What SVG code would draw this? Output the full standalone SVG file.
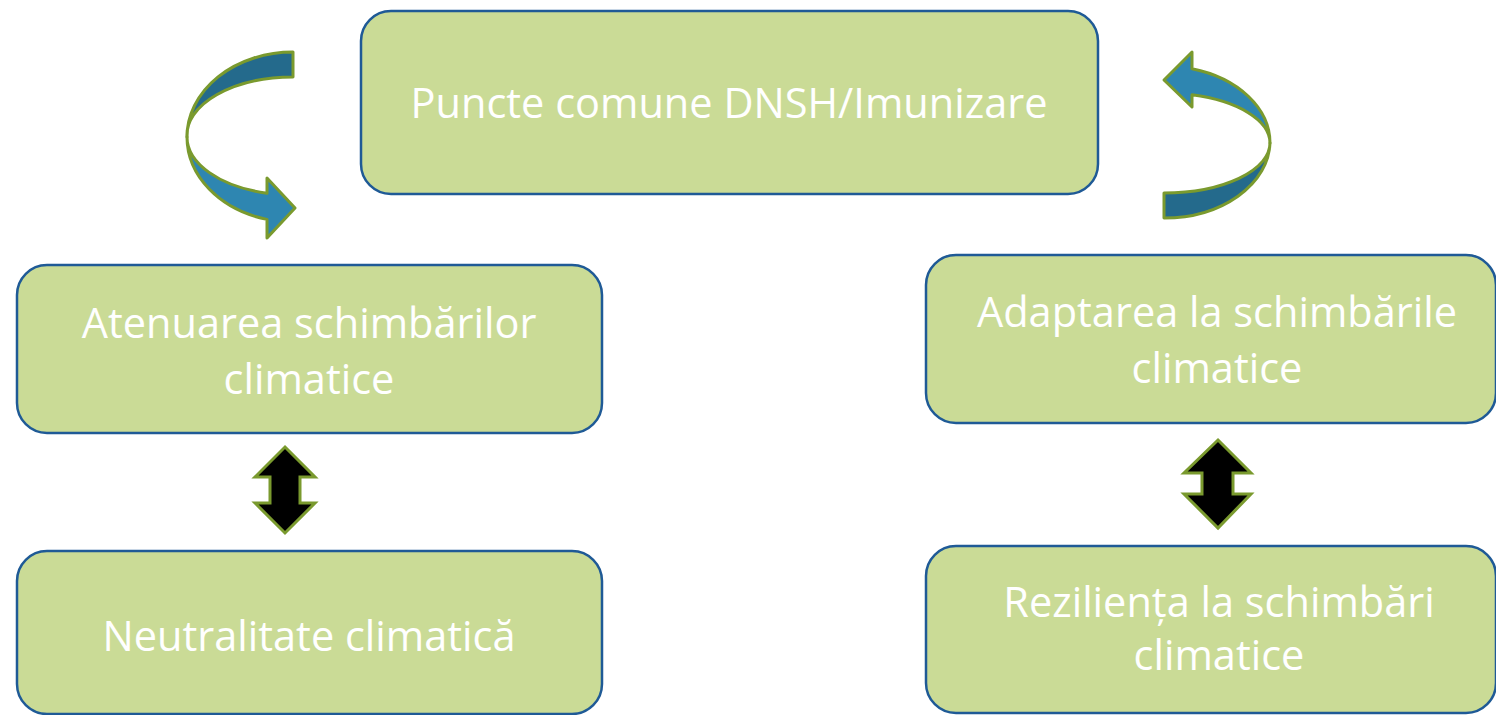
<svg xmlns="http://www.w3.org/2000/svg" width="1496" height="715" viewBox="0 0 1496 715">
<style>
.box{fill:#cadb96;stroke:#1f5a96;stroke-width:2.5}
.t{font-family:"Open Sans","Noto Sans","Liberation Sans",sans-serif;font-size:41.5px;fill:#ffffff;text-anchor:middle}
.dk{fill:#246a8c;stroke:#7a9a2e;stroke-width:3;stroke-linejoin:round}
.lt{fill:#2e86b1;stroke:#7a9a2e;stroke-width:3;stroke-linejoin:round}
.da{fill:#000000;stroke:#7a9a2e;stroke-width:3;stroke-linejoin:miter}
</style>
<rect width="1496" height="715" fill="#ffffff"/>
<g id="node-top">
<rect class="box" x="361" y="11" width="737" height="183" rx="30"/>
<text class="t" x="729" y="118">Puncte comune DNSH/Imunizare</text>
</g>
<g id="node-atenuarea">
<rect class="box" x="17" y="265" width="585" height="168" rx="30"/>
<text class="t" x="309" y="338">Atenuarea schimbărilor</text>
<text class="t" x="309" y="394">climatice</text>
</g>
<g id="node-neutralitate">
<rect class="box" x="17" y="551" width="585" height="163" rx="30"/>
<text class="t" x="309" y="651">Neutralitate climatică</text>
</g>
<g id="node-adaptarea">
<rect class="box" x="926" y="255" width="570" height="168" rx="30"/>
<text class="t" x="1217" y="327">Adaptarea la schimbările</text>
<text class="t" x="1217" y="383">climatice</text>
</g>
<g id="node-rezilienta">
<rect class="box" x="926" y="546" width="570" height="167" rx="30"/>
<text class="t" x="1219" y="617">Reziliența la schimbări</text>
<text class="t" x="1219" y="670">climatice</text>
</g>
<g id="connectors">
<path class="dk" d="M293,52 A106,85 0 0 0 187,137 A106,58 0 0 1 293,77 Z"/>
<path class="lt" d="M187,137 A106,85 0 0 0 267,219.4 L267,238 L295,208 L267,178 L267,193.2 A106,58 0 0 1 187,137 Z"/>
<path class="dk" d="M1164,218 A106,77 0 0 0 1270,143 A106,50 0 0 1 1164,193 Z"/>
<path class="lt" d="M1270,143 A106,77 0 0 0 1192,68.7 L1192,52 L1164,80 L1192,107 L1192,94.8 A106,50 0 0 1 1270,143 Z"/>
<path class="da" d="M285,447 L315,477 L300,477 L300,503 L315,503 L285,533 L255,503 L270,503 L270,477 L255,477 Z"/>
<path class="da" d="M1218,440 L1251,473 L1233,473 L1233,494 L1251,494 L1218,528 L1184,494 L1202,494 L1202,473 L1184,473 Z"/>
</g>
</svg>
